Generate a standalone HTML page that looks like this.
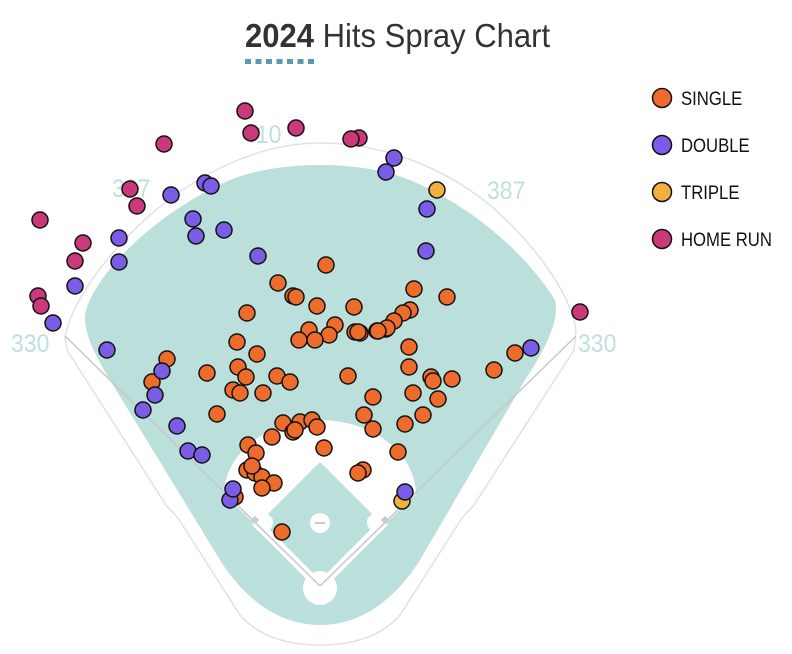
<!DOCTYPE html>
<html><head><meta charset="utf-8"><style>
html,body{margin:0;padding:0;background:#fff;width:792px;height:654px;overflow:hidden}
svg{display:block}
text{font-family:"Liberation Sans",sans-serif}
</style></head><body>
<svg width="792" height="654" viewBox="0 0 792 654" xmlns="http://www.w3.org/2000/svg">
<g transform="translate(245,47) scale(0.94,1)">
<text x="0" y="0" font-size="33" fill="#333"><tspan font-weight="bold">2024</tspan> Hits Spray Chart</text>
</g>
<line x1="245" y1="61.5" x2="318" y2="61.5" stroke="#5b9aab" stroke-width="5" stroke-dasharray="6,4.5"/>
<path d="M65 338 C70 305 105 255 150 215 C200 172 260 143 320 143 C380 143 440 165 490 205 C530 240 570 290 576 330 L574 350 L474 505 L462 518 L400 615 C380 638 350 645 320 645 C290 645 260 638 240 615 L178 518 L166 505 L67 350 Z" fill="none" stroke="#e2e2e2" stroke-width="1.5"/>
<path d="M85 318 C85 290 140 220 230 180 C280 160 360 160 410 180 C480 210 530 260 555 300 C560 320 545 350 525 380 L420 560 C395 600 360 625 320 625 C280 625 245 600 220 560 L110 380 C95 355 85 335 85 318 Z" fill="#bbdfda"/>
<path d="M224 495 A96 75 0 0 1 416 495 L416 494 L320 588 L224 494 Z" fill="#fff"/>
<polygon points="320,462 379,521 320,580 261,521" fill="#bbdfda"/>
<path d="M255 522 L320 587 L385 522" fill="none" stroke="#fff" stroke-width="8"/>
<circle cx="263" cy="522" r="10" fill="#fff"/>
<circle cx="377" cy="522" r="10" fill="#fff"/>
<circle cx="320" cy="457" r="10" fill="#fff"/>
<polygon points="320,462 372,514 320,566 268,514" fill="#bbdfda"/>
<circle cx="320" cy="588" r="17" fill="#fff"/>
<circle cx="320" cy="523" r="10" fill="#fff"/>
<line x1="315" y1="523" x2="325" y2="523" stroke="#ccc" stroke-width="2"/>
<line x1="320" y1="586" x2="65" y2="336" stroke="#c8c8c8" stroke-width="1.5"/>
<line x1="320" y1="586" x2="576" y2="336" stroke="#c8c8c8" stroke-width="1.5"/>
<rect x="252" y="517" width="6" height="6" fill="#ccc" transform="rotate(45 255 520)"/>
<rect x="382" y="517" width="6" height="6" fill="#ccc" transform="rotate(45 385 520)"/>
<g fill="#bfe0dc" font-size="25">
<text transform="translate(11,352) scale(0.92,1)">330</text>
<text transform="translate(112,197) scale(0.92,1)">307</text>
<text transform="translate(243,143) scale(0.92,1)">410</text>
<text transform="translate(487,199) scale(0.92,1)">387</text>
<text transform="translate(578,352) scale(0.92,1)">330</text>
</g>
<g stroke="#111" stroke-width="1.5">
<g fill="#ee6c2b">
<circle cx="326" cy="265" r="8"/><circle cx="278" cy="283" r="8"/><circle cx="293" cy="296" r="8"/><circle cx="296" cy="297" r="8"/><circle cx="317" cy="306" r="8"/><circle cx="354" cy="307" r="8"/><circle cx="247" cy="313" r="8"/><circle cx="309" cy="330" r="8"/><circle cx="335" cy="325" r="8"/><circle cx="329" cy="335" r="8"/><circle cx="315" cy="340" r="8"/><circle cx="299" cy="340" r="8"/><circle cx="355" cy="332" r="8"/><circle cx="360" cy="333" r="8"/><circle cx="377" cy="331" r="8"/><circle cx="386" cy="329" r="8"/><circle cx="237" cy="342" r="8"/><circle cx="257" cy="354" r="8"/><circle cx="167" cy="359" r="8"/><circle cx="152" cy="382" r="8"/><circle cx="207" cy="373" r="8"/><circle cx="238" cy="367" r="8"/><circle cx="246" cy="377" r="8"/><circle cx="233" cy="390" r="8"/><circle cx="240" cy="393" r="8"/><circle cx="277" cy="376" r="8"/><circle cx="290" cy="382" r="8"/><circle cx="263" cy="393" r="8"/><circle cx="348" cy="376" r="8"/><circle cx="373" cy="397" r="8"/><circle cx="364" cy="415" r="8"/><circle cx="373" cy="429" r="8"/><circle cx="217" cy="414" r="8"/><circle cx="283" cy="423" r="8"/><circle cx="300" cy="422" r="8"/><circle cx="293" cy="432" r="8"/><circle cx="312" cy="420" r="8"/><circle cx="317" cy="427" r="8"/><circle cx="295" cy="430" r="8"/><circle cx="272" cy="437" r="8"/><circle cx="248" cy="445" r="8"/><circle cx="256" cy="453" r="8"/><circle cx="324" cy="448" r="8"/>
<circle cx="414" cy="289" r="8"/><circle cx="447" cy="297" r="8"/><circle cx="410" cy="310" r="8"/><circle cx="403" cy="313" r="8"/><circle cx="394" cy="321" r="8"/><circle cx="387" cy="328" r="8"/><circle cx="378" cy="331" r="8"/><circle cx="358" cy="332" r="8"/><circle cx="409" cy="347" r="8"/><circle cx="409" cy="367" r="8"/><circle cx="431" cy="377" r="8"/><circle cx="433" cy="381" r="8"/><circle cx="452" cy="379" r="8"/><circle cx="494" cy="370" r="8"/><circle cx="515" cy="353" r="8"/><circle cx="413" cy="393" r="8"/><circle cx="438" cy="399" r="8"/><circle cx="423" cy="415" r="8"/><circle cx="405" cy="424" r="8"/><circle cx="398" cy="452" r="8"/><circle cx="363" cy="470" r="8"/><circle cx="358" cy="473" r="8"/>
<circle cx="247" cy="470" r="8"/><circle cx="255" cy="473" r="8"/><circle cx="262" cy="477" r="8"/><circle cx="274" cy="483" r="8"/><circle cx="262" cy="488" r="8"/><circle cx="252" cy="466" r="8"/><circle cx="235" cy="497" r="8"/><circle cx="282" cy="532" r="8"/>
</g>
<g fill="#7b5ce6">
<circle cx="205" cy="183" r="8"/><circle cx="211" cy="186" r="8"/><circle cx="171" cy="195" r="8"/><circle cx="193" cy="219" r="8"/><circle cx="196" cy="236" r="8"/><circle cx="224" cy="230" r="8"/><circle cx="119" cy="238" r="8"/><circle cx="119" cy="262" r="8"/><circle cx="258" cy="256" r="8"/><circle cx="75" cy="286" r="8"/><circle cx="53" cy="323" r="8"/><circle cx="107" cy="350" r="8"/><circle cx="394" cy="158" r="8"/><circle cx="386" cy="172" r="8"/><circle cx="427" cy="209" r="8"/><circle cx="426" cy="251" r="8"/><circle cx="531" cy="348" r="8"/><circle cx="162" cy="371" r="8"/><circle cx="155" cy="395" r="8"/><circle cx="143" cy="410" r="8"/><circle cx="177" cy="426" r="8"/><circle cx="188" cy="451" r="8"/><circle cx="202" cy="455" r="8"/><circle cx="230" cy="500" r="8"/><circle cx="233" cy="489" r="8"/>
</g>
<g fill="#f4b03e"><circle cx="437" cy="190" r="8"/><circle cx="402" cy="501" r="8"/></g>
<circle cx="405" cy="492" r="8" fill="#7b5ce6"/>
<g fill="#c9397b">
<circle cx="245" cy="111" r="8"/><circle cx="251" cy="133" r="8"/><circle cx="296" cy="128" r="8"/><circle cx="164" cy="144" r="8"/><circle cx="359" cy="138" r="8"/><circle cx="351" cy="139" r="8"/><circle cx="130" cy="189" r="8"/><circle cx="137" cy="206" r="8"/><circle cx="40" cy="220" r="8"/><circle cx="83" cy="243" r="8"/><circle cx="75" cy="261" r="8"/><circle cx="38" cy="296" r="8"/><circle cx="41" cy="306" r="8"/><circle cx="580" cy="312" r="8"/>
</g>
<circle cx="662" cy="98" r="9.5" fill="#ee6c2b"/>
<circle cx="662" cy="145" r="9.5" fill="#7b5ce6"/>
<circle cx="662" cy="192" r="9.5" fill="#f4b03e"/>
<circle cx="662" cy="239" r="9.5" fill="#c9397b"/>
</g>
<g font-size="19" fill="#111">
<text transform="translate(681,105) scale(0.88,1)">SINGLE</text>
<text transform="translate(681,152) scale(0.88,1)">DOUBLE</text>
<text transform="translate(681,199) scale(0.88,1)">TRIPLE</text>
<text transform="translate(681,246) scale(0.88,1)">HOME RUN</text>
</g>
</svg>
</body></html>
